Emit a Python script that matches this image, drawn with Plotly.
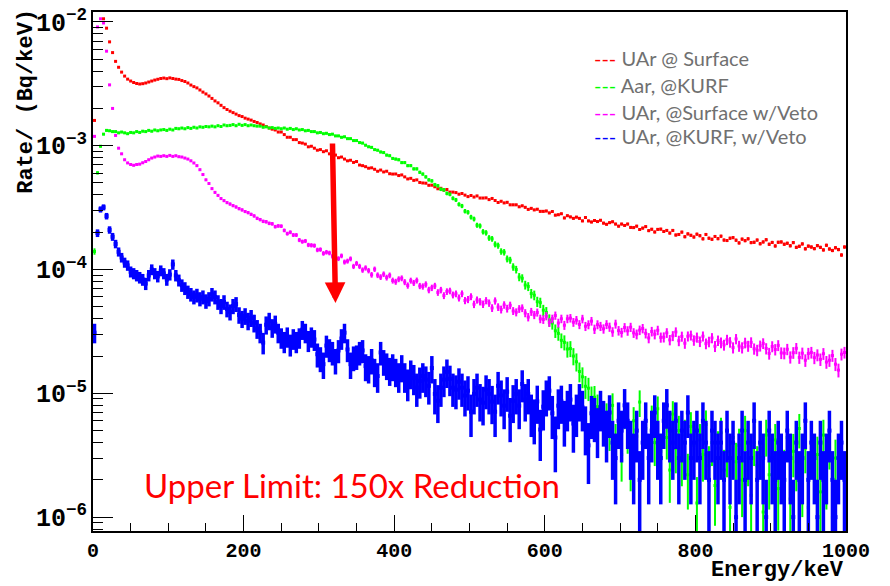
import plotly.graph_objects as go

# ---------------- data (rates in Bq/keV, 4 keV bins from 0 to 1000 keV) ----------------
energy_kev = list(range(2, 1000, 4))  # bin centres

ref_labels = ["UAr @ Surface", "Aar, @KURF", "UAr, @Surface w/Veto", "UAr, @KURF, w/Veto"]

uar_surface = [
 1.60e-3, 1.45e-2, 1.30e-2, 1.06e-2, 8.9e-3, 6.9e-3, 5.65e-3, 4.8e-3, 4.3e-3, 3.93e-3,
 3.65e-3, 3.45e-3, 3.33e-3, 3.24e-3, 3.18e-3, 3.15e-3, 3.17e-3, 3.21e-3, 3.27e-3, 3.33e-3,
 3.39e-3, 3.44e-3, 3.49e-3, 3.52e-3, 3.48e-3, 3.53e-3, 3.49e-3, 3.45e-3, 3.43e-3, 3.36e-3,
 3.30e-3, 3.21e-3, 3.09e-3, 3.00e-3, 2.93e-3, 2.82e-3, 2.71e-3, 2.62e-3, 2.52e-3, 2.41e-3,
 2.30e-3, 2.22e-3, 2.12e-3, 2.03e-3, 1.96e-3, 1.90e-3, 1.85e-3, 1.80e-3, 1.75e-3, 1.72e-3,
 1.67e-3, 1.64e-3, 1.61e-3, 1.57e-3, 1.54e-3, 1.50e-3, 1.47e-3, 1.43e-3, 1.39e-3, 1.36e-3,
 1.34e-3, 1.29e-3, 1.29e-3, 1.23e-3, 1.17e-3, 1.17e-3, 1.12e-3, 1.12e-3, 1.06e-3, 1.05e-3,
 1.03e-3, 9.8e-4, 9.9e-4, 9.55e-4, 9.2e-4, 9.3e-4, 8.95e-4, 9.1e-4, 8.6e-4, 8.6e-4,
 8.4e-4, 8.0e-4, 8.1e-4, 7.8e-4, 7.55e-4, 7.63e-4, 7.33e-4, 7.45e-4, 6.98e-4, 6.9e-4,
 6.77e-4, 6.58e-4, 6.63e-4, 6.45e-4, 6.22e-4, 6.36e-4, 6.14e-4, 6.22e-4, 5.94e-4, 5.9e-4,
 5.91e-4, 5.74e-4, 5.81e-4, 5.6e-4, 5.39e-4, 5.45e-4, 5.25e-4, 5.3e-4, 5.05e-4, 5.0e-4,
 4.98e-4, 4.79e-4, 4.8e-4, 4.66e-4, 4.49e-4, 4.53e-4, 4.38e-4, 4.43e-4, 4.22e-4, 4.22e-4,
 4.18e-4, 4.06e-4, 4.11e-4, 3.99e-4, 3.88e-4, 3.96e-4, 3.85e-4, 3.93e-4, 3.78e-4, 3.78e-4,
 3.79e-4, 3.67e-4, 3.75e-4, 3.61e-4, 3.48e-4, 3.56e-4, 3.45e-4, 3.49e-4, 3.33e-4, 3.33e-4,
 3.33e-4, 3.21e-4, 3.27e-4, 3.18e-4, 3.06e-4, 3.12e-4, 3.03e-4, 3.07e-4, 2.95e-4, 2.95e-4,
 2.97e-4, 2.865e-4, 2.94e-4, 2.75e-4, 2.77e-4, 2.82e-4, 2.61e-4, 2.72e-4, 2.66e-4, 2.59e-4,
 2.65e-4, 2.59e-4, 2.47e-4, 2.63e-4, 2.47e-4, 2.42e-4, 2.49e-4, 2.44e-4, 2.50e-4, 2.37e-4,
 2.32e-4, 2.39e-4, 2.43e-4, 2.33e-4, 2.24e-4, 2.33e-4, 2.27e-4, 2.33e-4, 2.19e-4, 2.18e-4,
 2.24e-4, 2.105e-4, 2.16e-4, 2.22e-4, 2.06e-4, 2.115e-4, 2.01e-4, 2.11e-4, 2.12e-4, 2.03e-4,
 2.07e-4, 1.97e-4, 2.07e-4, 1.90e-4, 1.92e-4, 2.005e-4, 1.84e-4, 1.94e-4, 1.89e-4, 1.83e-4,
 1.93e-4, 1.875e-4, 1.77e-4, 1.92e-4, 1.79e-4, 1.755e-4, 1.85e-4, 1.775e-4, 1.86e-4, 1.73e-4,
 1.715e-4, 1.79e-4, 1.81e-4, 1.725e-4, 1.64e-4, 1.76e-4, 1.71e-4, 1.77e-4, 1.65e-4, 1.66e-4,
 1.73e-4, 1.615e-4, 1.67e-4, 1.74e-4, 1.60e-4, 1.655e-4, 1.55e-4, 1.66e-4, 1.67e-4, 1.60e-4,
 1.63e-4, 1.555e-4, 1.65e-4, 1.51e-4, 1.54e-4, 1.61e-4, 1.47e-4, 1.545e-4, 1.52e-4, 1.475e-4,
 1.56e-4, 1.51e-4, 1.44e-4, 1.57e-4, 1.465e-4, 1.425e-4, 1.50e-4, 1.45e-4, 1.31e-4, 1.52e-4,
]

aar_kurf = [
 1.40e-4, 6.04e-4, 9.9e-4, 1.24e-3, 1.33e-3, 1.32e-3, 1.30e-3, 1.30e-3, 1.27e-3, 1.29e-3,
 1.27e-3, 1.25e-3, 1.28e-3, 1.27e-3, 1.30e-3, 1.28e-3, 1.31e-3, 1.30e-3, 1.33e-3, 1.31e-3,
 1.34e-3, 1.32e-3, 1.34e-3, 1.35e-3, 1.33e-3, 1.36e-3, 1.34e-3, 1.38e-3, 1.37e-3, 1.39e-3,
 1.37e-3, 1.40e-3, 1.38e-3, 1.41e-3, 1.39e-3, 1.42e-3, 1.41e-3, 1.43e-3, 1.42e-3, 1.44e-3,
 1.42e-3, 1.45e-3, 1.43e-3, 1.47e-3, 1.45e-3, 1.46e-3, 1.48e-3, 1.45e-3, 1.49e-3, 1.46e-3,
 1.48e-3, 1.45e-3, 1.47e-3, 1.45e-3, 1.44e-3, 1.44e-3, 1.41e-3, 1.42e-3, 1.39e-3, 1.40e-3,
 1.38e-3, 1.39e-3, 1.37e-3, 1.39e-3, 1.36e-3, 1.38e-3, 1.35e-3, 1.37e-3, 1.34e-3, 1.35e-3,
 1.32e-3, 1.33e-3, 1.30e-3, 1.30e-3, 1.27e-3, 1.28e-3, 1.25e-3, 1.26e-3, 1.23e-3, 1.24e-3,
 1.20e-3, 1.20e-3, 1.17e-3, 1.18e-3, 1.14e-3, 1.14e-3, 1.10e-3, 1.10e-3, 1.06e-3, 1.05e-3,
 1.01e-3, 9.8e-4, 9.7e-4, 9.3e-4, 9.2e-4, 8.9e-4, 8.8e-4, 8.4e-4, 8.3e-4, 7.9e-4,
 7.8e-4, 7.7e-4, 7.3e-4, 7.3e-4, 6.9e-4, 6.9e-4, 6.5e-4, 6.5e-4, 6.1e-4, 5.9e-4,
 5.6e-4, 5.3e-4, 5.2e-4, 4.85e-4, 4.75e-4, 4.45e-4, 4.4e-4, 4.12e-4, 4.05e-4, 3.76e-4,
 3.65e-4, 3.36e-4, 3.26e-4, 2.96e-4, 2.90e-4, 2.65e-4, 2.56e-4, 2.28e-4, 2.25e-4, 2.02e-4,
 1.98e-4, 1.80e-4, 1.77e-4, 1.60e-4, 1.56e-4, 1.40e-4, 1.38e-4, 1.22e-4, 1.19e-4, 1.05e-4,
 1.00e-4, 8.7e-5, 8.5e-5, 7.5e-5, 7.3e-5, 6.4e-5, 6.2e-5, 5.5e-5, 5.4e-5, 4.7e-5,
 4.5e-5, 3.9e-5, 3.7e-5, 3.2e-5, 3.05e-5, 2.68e-5, 2.58e-5, 2.28e-5, 2.30e-5, 2.00e-5,
 1.80e-5, 1.50e-5, 1.36e-5, 1.14e-5, 1.10e-5, 9.2e-6, 9.3e-6, 7.8e-6, 8.2e-6, 6.7e-6,
 6.5e-6, 5.0e-6, 8.0e-6, 4.2e-6, 5.5e-6, 3.2e-6, 7.0e-6, 4.8e-6, 2.8e-6, 6.0e-6,
 4.5e-6, 8.5e-6, 3.8e-6, 5.2e-6, 2.6e-6, 6.2e-6, 4.0e-6, 7.5e-6, 3.4e-6, 5.8e-6,
 4.4e-6, 2.4e-6, 6.8e-6, 3.6e-6, 5.0e-6, 3.0e-6, 4.6e-6, 2.2e-6, 5.4e-6, 3.8e-6,
 1.3e-6, 4.2e-6, 3.2e-6, 5.6e-6, 2.6e-6, 4.0e-6, 1.8e-6, 3.6e-6, 4.8e-6, 2.4e-6,
 3.4e-6, 1.2e-6, 4.4e-6, 2.8e-6, 3.8e-6, 2.0e-6, 5.0e-6, 3.0e-6, 1.5e-6, 4.0e-6,
 2.6e-6, 3.6e-6, 1.1e-6, 4.6e-6, 2.2e-6, 3.2e-6, 4.2e-6, 1.7e-6, 3.0e-6, 2.4e-6,
 4.4e-6, 1.4e-6, 3.4e-6, 2.8e-6, 5.2e-6, 2.0e-6, 3.6e-6, 1.2e-6, 4.0e-6, 2.6e-6,
 3.2e-6, 1.6e-6, 4.6e-6, 2.2e-6, 3.8e-6, 1.0e-6, 3.0e-6, 2.4e-6, 4.2e-6, 1.9e-6,
]

uar_surface_veto = [
 1.19e-3, 9.1e-3, 1.06e-2, 9.8e-3, 5.8e-3, 3.1e-3, 2.0e-3, 1.21e-3, 9.55e-4, 8.6e-4,
 7.7e-4, 7.26e-4, 7.05e-4, 6.95e-4, 7.05e-4, 7.1e-4, 7.28e-4, 7.46e-4, 7.7e-4, 7.95e-4,
 8.1e-4, 8.25e-4, 8.2e-4, 8.3e-4, 8.2e-4, 8.35e-4, 8.2e-4, 8.3e-4, 8.15e-4, 8.1e-4,
 7.95e-4, 7.8e-4, 7.55e-4, 7.25e-4, 6.9e-4, 6.4e-4, 5.85e-4, 5.3e-4, 4.95e-4, 4.5e-4,
 4.2e-4, 3.97e-4, 3.74e-4, 3.6e-4, 3.47e-4, 3.38e-4, 3.28e-4, 3.2e-4, 3.1e-4, 3.03e-4,
 2.94e-4, 2.88e-4, 2.79e-4, 2.71e-4, 2.59e-4, 2.53e-4, 2.45e-4, 2.43e-4, 2.36e-4, 2.34e-4,
 2.22e-4, 2.25e-4, 2.24e-4, 2.07e-4, 1.95e-4, 2.0e-4, 1.90e-4, 1.90e-4, 1.73e-4, 1.68e-4,
 1.70e-4, 1.58e-4, 1.57e-4, 1.56e-4, 1.44e-4, 1.45e-4, 1.35e-4, 1.38e-4, 1.36e-4, 1.28e-4,
 1.31e-4, 1.225e-4, 1.29e-4, 1.15e-4, 1.17e-4, 1.22e-4, 1.06e-4, 1.12e-4, 1.06e-4, 9.9e-5,
 1.03e-4, 9.8e-5, 9.07e-5, 1.006e-4, 9.0e-5, 8.69e-5, 9.17e-5, 8.61e-5, 8.98e-5, 8.15e-5,
 7.97e-5, 8.36e-5, 8.5e-5, 7.92e-5, 7.43e-5, 8.14e-5, 7.8e-5, 8.16e-5, 7.37e-5, 7.3e-5,
 7.59e-5, 6.84e-5, 7.12e-5, 7.38e-5, 6.53e-5, 6.83e-5, 6.16e-5, 6.64e-5, 6.72e-5, 6.24e-5,
 6.37e-5, 5.9e-5, 6.38e-5, 5.62e-5, 5.73e-5, 6.04e-5, 5.24e-5, 5.68e-5, 5.5e-5, 5.25e-5,
 5.61e-5, 5.36e-5, 4.89e-5, 5.58e-5, 4.98e-5, 4.76e-5, 5.18e-5, 4.84e-5, 5.14e-5, 4.63e-5,
 4.52e-5, 4.81e-5, 4.88e-5, 4.45e-5, 4.13e-5, 4.56e-5, 4.3e-5, 4.5e-5, 4.0e-5, 3.95e-5,
 4.21e-5, 3.74e-5, 4.0e-5, 4.25e-5, 3.7e-5, 4.0e-5, 3.55e-5, 4.0e-5, 4.05e-5, 3.75e-5,
 3.9e-5, 3.6e-5, 3.99e-5, 3.48e-5, 3.59e-5, 3.83e-5, 3.3e-5, 3.59e-5, 3.48e-5, 3.32e-5,
 3.6e-5, 3.43e-5, 3.14e-5, 3.63e-5, 3.21e-5, 3.1e-5, 3.4e-5, 3.2e-5, 3.42e-5, 3.08e-5,
 3.0e-5, 3.24e-5, 3.34e-5, 3.05e-5, 2.8e-5, 3.16e-5, 3.0e-5, 3.23e-5, 2.83e-5, 2.84e-5,
 3.08e-5, 2.7e-5, 2.91e-5, 3.13e-5, 2.66e-5, 2.88e-5, 2.54e-5, 2.89e-5, 2.94e-5, 2.68e-5,
 2.83e-5, 2.62e-5, 2.89e-5, 2.52e-5, 2.61e-5, 2.8e-5, 2.4e-5, 2.67e-5, 2.57e-5, 2.46e-5,
 2.71e-5, 2.59e-5, 2.34e-5, 2.75e-5, 2.41e-5, 2.34e-5, 2.56e-5, 2.41e-5, 2.58e-5, 2.29e-5,
 2.23e-5, 2.42e-5, 2.53e-5, 2.3e-5, 2.1e-5, 2.39e-5, 2.26e-5, 2.44e-5, 2.12e-5, 2.11e-5,
 2.27e-5, 1.96e-5, 2.13e-5, 2.31e-5, 1.95e-5, 2.11e-5, 1.85e-5, 2.1e-5, 2.14e-5, 1.94e-5,
 2.04e-5, 1.88e-5, 2.09e-5, 1.79e-5, 1.85e-5, 2.02e-5, 1.72e-5, 1.54e-5, 2.07e-5, 2.14e-5,
]

uar_kurf_veto = [
 3.09e-5, 1.97e-4, 3.06e-4, 3.18e-4, 2.70e-4, 2.09e-4, 1.84e-4, 1.61e-4, 1.39e-4, 1.25e-4,
 1.14e-4, 1.08e-4, 9.6e-5, 9.3e-5, 8.96e-5, 8.63e-5, 8.3e-5, 7.7e-5, 8.96e-5, 1.0e-4,
 9.3e-5, 8.8e-5, 9.8e-5, 9.3e-5, 8.3e-5, 9.1e-5, 1.1e-4, 8.96e-5, 8.2e-5, 7.46e-5,
 7.06e-5, 6.6e-5, 6.3e-5, 6.0e-5, 6.2e-5, 5.8e-5, 6.0e-5, 5.56e-5, 5.8e-5, 6.3e-5,
 6.0e-5, 5.46e-5, 5.07e-5, 5.46e-5, 4.8e-5, 4.55e-5, 5.07e-5, 5.26e-5, 4.3e-5, 4.0e-5,
 4.22e-5, 3.85e-5, 4.07e-5, 3.71e-5, 3.33e-5, 3.09e-5, 2.57e-5, 3.58e-5, 3.85e-5, 3.39e-5,
 3.64e-5, 3.09e-5, 2.82e-5, 2.62e-5, 2.87e-5, 2.48e-5, 2.77e-5, 2.62e-5, 2.82e-5, 3.27e-5,
 3.09e-5, 2.67e-5, 2.87e-5, 2.72e-5, 2.07e-5, 1.92e-5, 1.72e-5, 2.43e-5, 2.26e-5, 2.14e-5,
 1.85e-5, 2.22e-5, 2.77e-5, 3.09e-5, 2.26e-5, 1.72e-5, 1.95e-5, 1.99e-5, 2.14e-5, 2.22e-5,
 1.66e-5, 1.60e-5, 1.85e-5, 1.51e-5, 1.38e-5, 2.14e-5, 1.81e-5, 1.69e-5, 1.54e-5, 1.66e-5,
 1.51e-5, 1.38e-5, 1.63e-5, 1.38e-5, 1.21e-5, 1.46e-5, 1.33e-5, 1.11e-5, 1.26e-5, 1.38e-5,
 1.29e-5, 1.15e-5, 1.60e-5, 9.9e-6, 8.7e-6, 1.11e-5, 1.29e-5, 1.49e-5, 1.31e-5, 1.11e-5,
 1.07e-5, 1.24e-5, 1.11e-5, 9.6e-6, 1.05e-5, 7.1e-6, 9.9e-6, 1.11e-5, 8.9e-6, 8.4e-6,
 1.07e-5, 9.9e-6, 8.56e-6, 7.1e-6, 1.15e-5, 9.6e-6, 7.95e-6, 1.03e-5, 6.6e-6, 8.7e-6,
 9.9e-6, 7.95e-6, 1.19e-5, 8.9e-6, 9.9e-6, 7.1e-6, 6.4e-6, 8.6e-6, 5.1e-6, 7.8e-6,
 9.6e-6, 1.05e-5, 6.9e-6, 4.4e-6, 7.95e-6, 8.6e-6, 6.2e-6, 7.7e-6, 8.9e-6, 5.7e-6,
 7.1e-6, 8.9e-6, 7.7e-6, 5.5e-6, 3.8e-6, 6.9e-6, 6.6e-6, 5.3e-6, 7.7e-6, 6.2e-6,
 5e-6, 7e-6, 4e-6, 3e-6, 6e-6, 5e-6, 8e-6, 6e-6, 4e-6, 3e-6,
 5e-6, 2e-6, 4e-6, 6e-6, 3e-6, 5e-6, 7e-6, 4e-6, 3e-6, 6e-6,
 8e-6, 5e-6, 4e-6, 6e-6, 3e-6, 5e-6, 4e-6, 7e-6, 3e-6, 4e-6,
 5e-6, 3e-6, 6e-6, 4e-6, 2e-6, 5e-6, 4e-6, 3e-6, 4e-6, 2e-6,
 5e-6, 3e-6, 4e-6, 1e-6, 3e-6, 5e-6, 2e-6, 4e-6, 3e-6, 6e-6,
 2e-6, 4e-6, 3e-6, 1e-6, 5e-6, 3e-6, 2e-6, 4e-6, 3e-6, 2e-6,
 5e-6, 3e-6, 1e-6, 4e-6, 2e-6, 3e-6, 6e-6, 2e-6, 4e-6, 3e-6,
 1e-6, 4e-6, 2e-6, 3e-6, 5e-6, 2e-6, 1e-6, 3e-6, 4e-6, 2e-6,
]

# rate carried by one simulated count in each spectrum (Poisson error bars)
rate_per_count = [1.4e-7, 5e-7, 2.5e-7, 1.0e-6]
series = [uar_surface, aar_kurf, uar_surface_veto, uar_kurf_veto]
colors = ["#ff0000", "#00ff00", "#ff00ff", "#0000ff"]

fig = go.Figure()
for vals, q, col, name in zip(series, rate_per_count, colors, ref_labels):
    errs = [(v * q) ** 0.5 for v in vals]
    is_blue = col == "#0000ff"
    fig.add_trace(go.Scatter(
        x=energy_kev, y=vals, mode="markers", name=name,
        marker=dict(symbol="square", size=4 if is_blue else 3, color=col, line=dict(width=0)),
        error_y=dict(type="data", array=errs, visible=True, color=col,
                     thickness=3.5 if is_blue else 2, width=0),
        showlegend=False,
    ))

mono = "Liberation Mono"
ann = []
# axis titles
ann.append(dict(text="<b>Rate/ (Bq/keV)</b>", xref="paper", yref="paper",
                x=(27 - 93) / 753, y=(531 - 96) / 526, textangle=-90, showarrow=False,
                xanchor="center", yanchor="middle", font=dict(family=mono, size=22, color="black")))
ann.append(dict(text="<b>Energy/keV</b>", xref="paper", yref="paper",
                x=1.0, y=(531 - 571) / 526, showarrow=False,
                xanchor="right", yanchor="middle", font=dict(family=mono, size=22, color="black")))
# legend (text lines)
leg_y = [52, 79, 106, 131]
for lab, col, yy in zip(ref_labels, colors, leg_y):
    ann.append(dict(text=f"<span style='color:{col}'>---</span> {lab}", xref="paper", yref="paper",
                    x=(592 - 93) / 753, y=(531 - yy) / 526, showarrow=False,
                    xanchor="left", yanchor="middle",
                    font=dict(family="Lato", size=20, color="#707070")))
# text
ann.append(dict(text="Upper Limit: 150x Reduction", xref="paper", yref="paper",
                x=(352 - 93) / 753, y=(531 - 484) / 526, showarrow=False,
                xanchor="center", yanchor="middle", font=dict(family="Lato", size=33, color="#ff0000")))
# arrow
ann.append(dict(text="", x=322, y=-4.27, ax=318, ay=-2.97, xref="x", yref="y", axref="x", ayref="y",
                showarrow=True, arrowhead=2, arrowsize=0.75, arrowwidth=5.5, arrowcolor="#ff0000",
                standoff=0, startstandoff=0))

tickfont = dict(family=mono, size=20, color="black", weight="bold")
fig.update_layout(
    width=890, height=586, margin=dict(l=93, r=44, t=5, b=55),
    paper_bgcolor="white", plot_bgcolor="white", showlegend=False,
    annotations=ann,
    xaxis=dict(range=[0, 1000], tickmode="linear", tick0=0, dtick=200,
               ticks="inside", ticklen=16, tickwidth=1, tickcolor="black",
               showline=True, linecolor="black", linewidth=2, mirror=True,
               showgrid=False, zeroline=False, tickfont=tickfont,
               minor=dict(dtick=50, ticks="inside", ticklen=8, tickwidth=1, tickcolor="black", showgrid=False)),
    yaxis=dict(type="log", range=[-6.112, -1.92], tickmode="linear", tick0=0, dtick=1,
               ticks="inside", ticklen=20, tickwidth=1, tickcolor="black",
               exponentformat="power", showexponent="all",
               showline=True, linecolor="black", linewidth=2, mirror=True,
               showgrid=False, zeroline=False, tickfont=tickfont,
               minor=dict(dtick="D1", ticks="inside", ticklen=10, tickwidth=1, tickcolor="black", showgrid=False)),
)

fig.write_html("out.html")
